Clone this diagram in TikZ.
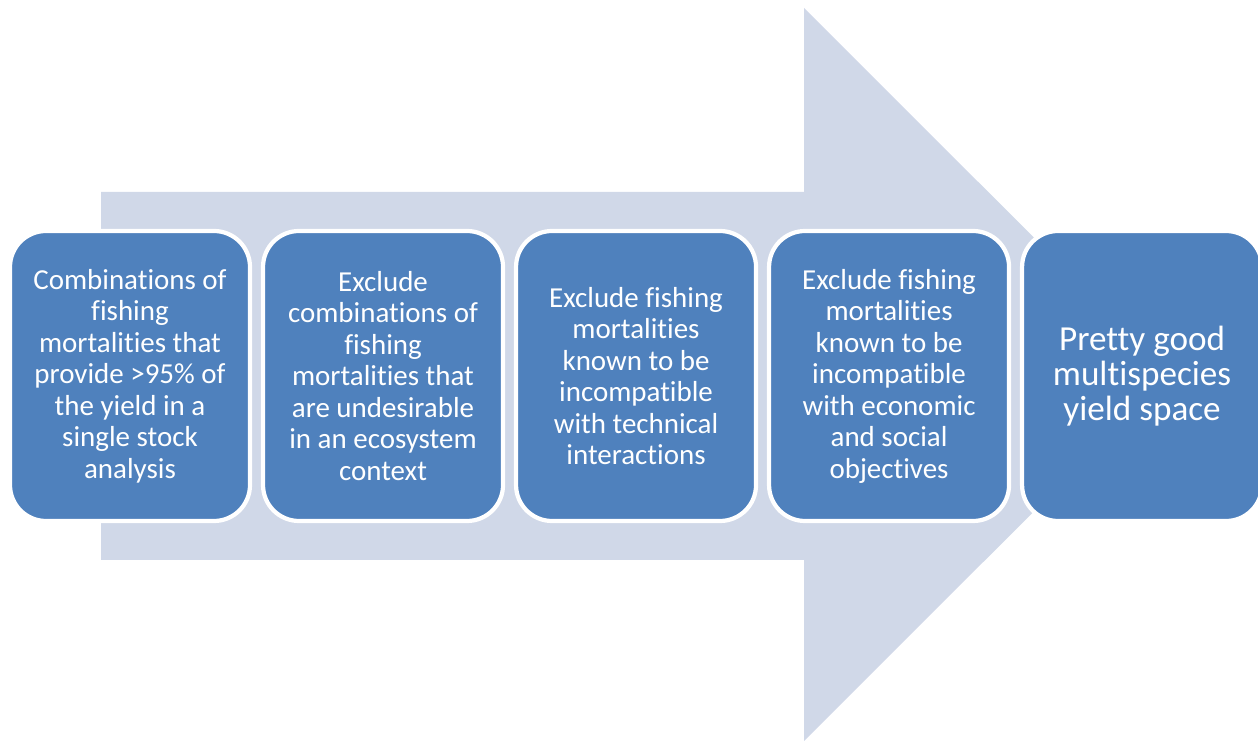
\documentclass[tikz,border=0pt]{standalone}
\usepackage{fontspec}
\setmainfont{Carlito}[Ligatures=NoCommon]
\usetikzlibrary{positioning}
\definecolor{arrowgrey}{HTML}{D0D8E8}
\definecolor{stageblue}{HTML}{4F81BD}

\begin{document}
\begin{tikzpicture}[
    stage/.style={draw=white, line width=3pt, fill=stageblue, rounded corners=0.9cm,
                  minimum width=6.0cm, minimum height=7.25cm, text=white,
                  align=center, inner sep=0pt, font=\fontsize{20.6}{22.4}\selectfont},
    goal/.style={stage, font=\fontsize{25}{25}\selectfont}]
  \clip (0,0) rectangle (31.45,18.525);
  % big background arrow
  \fill[arrowgrey] (2.525,13.725) -- (20.1,13.725) -- (20.1,18.325) -- (29.275,9.1625)
                   -- (20.1,0) -- (20.1,4.525) -- (2.525,4.525) -- cycle;
  % stages
  \node[stage] (s1) at (3.25,9.125)
    {Combinations of\\ fishing\\ mortalities that\\ provide >95\% of\\ the yield in a\\ single stock\\ analysis};
  \node[stage, right=0.22cm of s1] (s2)
    {Exclude\\ combinations of\\ fishing\\ mortalities that\\ are undesirable\\ in an ecosystem\\ context};
  \node[stage, right=0.22cm of s2] (s3)
    {Exclude fishing\\ mortalities\\ known to be\\ incompatible\\ with technical\\ interactions};
  \node[stage, right=0.22cm of s3] (s4)
    {Exclude fishing\\ mortalities\\ known to be\\ incompatible\\ with economic\\ and social\\ objectives};
  \node[goal, right=0.22cm of s4] (s5)
    {Pretty good\\ multispecies\\ yield space};
\end{tikzpicture}
\end{document}
